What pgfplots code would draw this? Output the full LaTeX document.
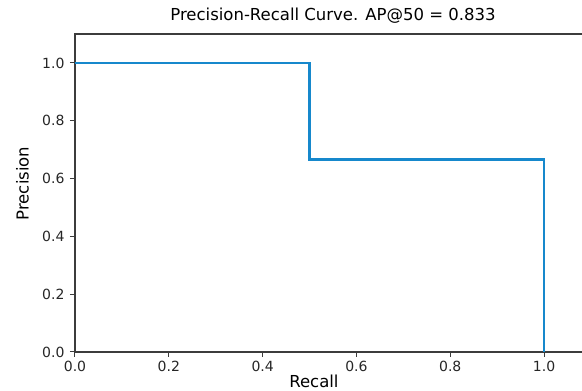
\documentclass[border=0pt]{standalone}
\usepackage{pgfplots}
\pgfplotsset{compat=1.18}
\usepackage{fontspec}
\setmainfont{DejaVu Sans}
\definecolor{prblue}{RGB}{22,136,204}
\definecolor{spine}{RGB}{60,60,60}
\begin{document}
\begin{tikzpicture}
\begin{axis}[
  at={(0pt,0pt)}, anchor=south west,
  scale only axis, width=516pt, height=318pt,
  xmin=0, xmax=1.1, ymin=0, ymax=1.1,
  xtick={0,0.2,0.4,0.6,0.8,1.0},
  ytick={0,0.2,0.4,0.6,0.8,1.0},
  tick align=outside, tick pos=left,
  major tick length=5pt,
  every tick/.style={spine, line width=1pt},
  axis line style={spine, line width=1.2pt},
  /pgf/number format/.cd, fixed, fixed zerofill, precision=1, assume math mode=true,
  /pgfplots/.cd,
  tick label style={font=\fontsize{14}{16}\selectfont, text=black!85},
  xticklabel style={yshift=-1pt},
  yticklabel style={xshift=-2pt},
  title={Precision-Recall Curve. AP@50 = 0.833},
  title style={at={(axis description cs:0.5,1)}, anchor=base, yshift=7pt, font=\fontsize{16.5}{19}\selectfont},
  xlabel={Recall},
  xlabel style={at={(axis description cs:0.463,0)}, anchor=base, yshift=-36pt, font=\fontsize{16.5}{19}\selectfont},
  ylabel={Precision},
  ylabel style={at={(axis description cs:-0.1017,0.53)}, anchor=center, font=\fontsize{16.5}{19}\selectfont},
]
\addplot[prblue, line width=2.8pt, line join=miter] coordinates {
  (0,1.0) (0.5,1.0) (0.5,0.6667) (1.0,0.6667) (1.0,0)
};
\end{axis}
\pgfresetboundingbox
\path[use as bounding box] (-75pt,-39pt) rectangle (507pt,352pt);
\end{tikzpicture}
\end{document}
